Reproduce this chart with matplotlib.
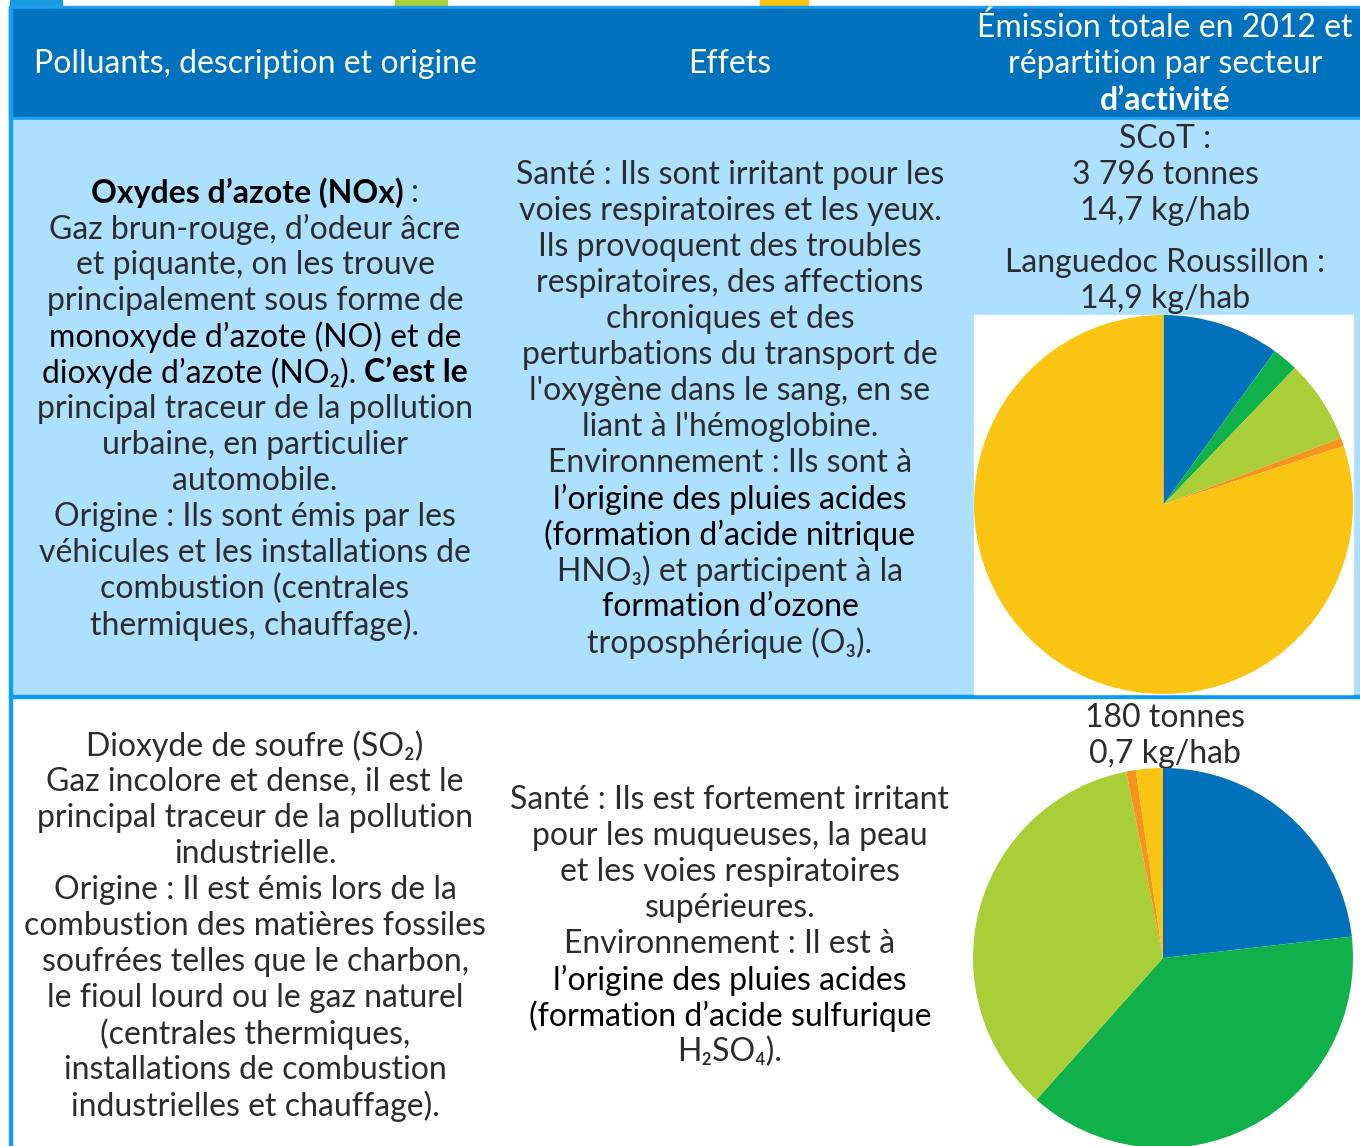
import matplotlib
matplotlib.use("Agg")
import matplotlib.pyplot as plt
from matplotlib.patches import Rectangle

plt.rcParams['font.family'] = ['Lato', 'DejaVu Sans']

W, H = 1360, 1146
FS = 23

# couleurs des secteurs (ordre des parts)
sector_colors = ["#0071BA", "#10B14B", "#A9CE38", "#F7941D", "#FAC412"]
nox_shares = [10.0, 2.2, 7.1, 0.7, 80.0]
so2_shares = [23.2, 38.4, 35.3, 0.8, 2.3]

header_left = "Polluants, description et origine"
header_mid = "Effets"
header_right = ["Émission totale en 2012 et", "répartition par secteur"]
header_right_bold = "d’activité"

# lignes : (texte, style) ; style r = normal, m = foncé, b = gras
nox_desc = [
    [("Oxydes d’azote (NOx)", "b"), (":", "r")],
    [("Gaz brun-rouge, d’odeur âcre", "r")],
    [("et piquante, on les trouve", "r")],
    [("principalement sous forme de", "r")],
    [("monoxyde d’azote (NO) et de", "m")],
    [("dioxyde d’azote (NO₂).", "m"), ("C’est le", "b")],
    [("principal traceur de la pollution", "r")],
    [("urbaine, en particulier", "r")],
    [("automobile.", "r")],
    [("Origine : Ils sont émis par les", "r")],
    [("véhicules et les installations de", "r")],
    [("combustion (centrales", "r")],
    [("thermiques, chauffage).", "r")],
]
nox_effects = [
    [("Santé : Ils sont irritant pour les", "r")],
    [("voies respiratoires et les yeux.", "r")],
    [("Ils provoquent des troubles", "r")],
    [("respiratoires, des affections", "r")],
    [("chroniques et des", "r")],
    [("perturbations du transport de", "r")],
    [("l'oxygène dans le sang, en se", "r")],
    [("liant à l'hémoglobine.", "r")],
    [("Environnement : Ils sont à", "r")],
    [("l’origine des pluies acides", "m")],
    [("(formation d’acide nitrique", "m")],
    [("HNO₃) et participent à la", "r")],
    [("formation d’ozone", "m")],
    [("troposphérique (O₃).", "r")],
]
nox_emis = ["SCoT :", "3 796 tonnes", "14,7 kg/hab"]
nox_region = ["Languedoc Roussillon :", "14,9 kg/hab"]

so2_desc = [
    [("Dioxyde de soufre (SO₂)", "r")],
    [("Gaz incolore et dense, il est le", "r")],
    [("principal traceur de la pollution", "r")],
    [("industrielle.", "r")],
    [("Origine : Il est émis lors de la", "r")],
    [("combustion des matières fossiles", "r")],
    [("soufrées telles que le charbon,", "r")],
    [("le fioul lourd ou le gaz naturel", "r")],
    [("(centrales thermiques,", "r")],
    [("installations de combustion", "r")],
    [("industrielles et chauffage).", "r")],
]
so2_effects = [
    [("Santé : Ils est fortement irritant", "r")],
    [("pour les muqueuses, la peau", "r")],
    [("et les voies respiratoires", "r")],
    [("supérieures.", "r")],
    [("Environnement : Il est à", "r")],
    [("l’origine des pluies acides", "m")],
    [("(formation d’acide sulfurique", "m")],
    [("H₂SO₄).", "r")],
]
so2_emis = ["180 tonnes", "0,7 kg/hab"]

fig = plt.figure(figsize=(W / 100, H / 100), dpi=100)
ax = fig.add_axes([0, 0, 1, 1])
ax.set_xlim(0, W)
ax.set_ylim(H, 0)
ax.axis("off")
renderer = fig.canvas.get_renderer()

# fond du tableau
ax.add_patch(Rectangle((10, 0), 52, 6, color="#1A9BE0"))
ax.add_patch(Rectangle((395, 0), 52, 6, color="#A9CE38"))
ax.add_patch(Rectangle((760, 0), 48, 6, color="#FAC412"))
ax.add_patch(Rectangle((9, 6), W, 3, color="#1E9BEA"))
ax.add_patch(Rectangle((9, 9), W, 108, color="#0071BC"))
ax.add_patch(Rectangle((9, 117), W, 3, color="#1AA0F2"))
ax.add_patch(Rectangle((9, 120), W, 575, color="#ADDFFF"))
ax.add_patch(Rectangle((9, 695), W, 3, color="#0A9CF5"))
ax.add_patch(Rectangle((9, 6), 3, H, color="#0FA0F5"))
ax.add_patch(Rectangle((974, 315), 379, 379, color="white", zorder=1))

STYLE = {"r": ("normal", "#2c2c2c"), "m": ("normal", "#000000"),
         "b": ("bold", "#000000")}


def text_width(s, weight):
    t = ax.text(0, 0, s, fontsize=FS, fontweight=weight)
    w = t.get_window_extent(renderer).width
    t.remove()
    return w


def draw_line(xc, y, parts, color=None):
    texts = []
    for s, st in parts:
        w, c = STYLE[st]
        t = ax.text(0, y, s, fontsize=FS, fontweight=w, color=color or c,
                    ha="left", va="center", zorder=3)
        texts.append(t)
    widths = [t.get_window_extent(renderer).width for t in texts]
    space = text_width("a a", "normal") - text_width("aa", "normal")
    total = sum(widths) + space * (len(texts) - 1)
    x = xc - total / 2
    for t, w in zip(texts, widths):
        t.set_x(x)
        x += w + space


def draw_block(xc, y0, lines, step=36, color=None):
    for i, parts in enumerate(lines):
        if isinstance(parts, str):
            parts = [(parts, "r")]
        draw_line(xc, y0 + i * step, parts, color)


# en-tête
draw_block(255, 64, [header_left], color="white")
draw_block(730, 64, [header_mid], color="white")
draw_block(1165, 28, header_right, color="white")
draw_line(1165, 100, [(header_right_bold, "b")], color="white")

# ligne NOx
draw_block(255, 193, nox_desc)
draw_block(730, 175, nox_effects)
draw_block(1165, 139, nox_emis)
draw_block(1165, 263, nox_region)

# ligne SO2
draw_block(255, 746, so2_desc)
draw_block(730, 800, so2_effects)
draw_block(1165, 718, so2_emis)


def add_pie(x0, y0, size, shares):
    pax = fig.add_axes([x0 / W, 1 - (y0 + size) / H, size / W, size / H])
    pax.pie(shares, colors=sector_colors, startangle=90, counterclock=False,
            radius=1.0, wedgeprops={"linewidth": 0})
    pax.set_xlim(-1, 1)
    pax.set_ylim(-1, 1)
    pax.axis("off")


add_pie(974, 315, 379, nox_shares)
add_pie(973, 768, 380, so2_shares)

fig.savefig("out.png", dpi=100)
